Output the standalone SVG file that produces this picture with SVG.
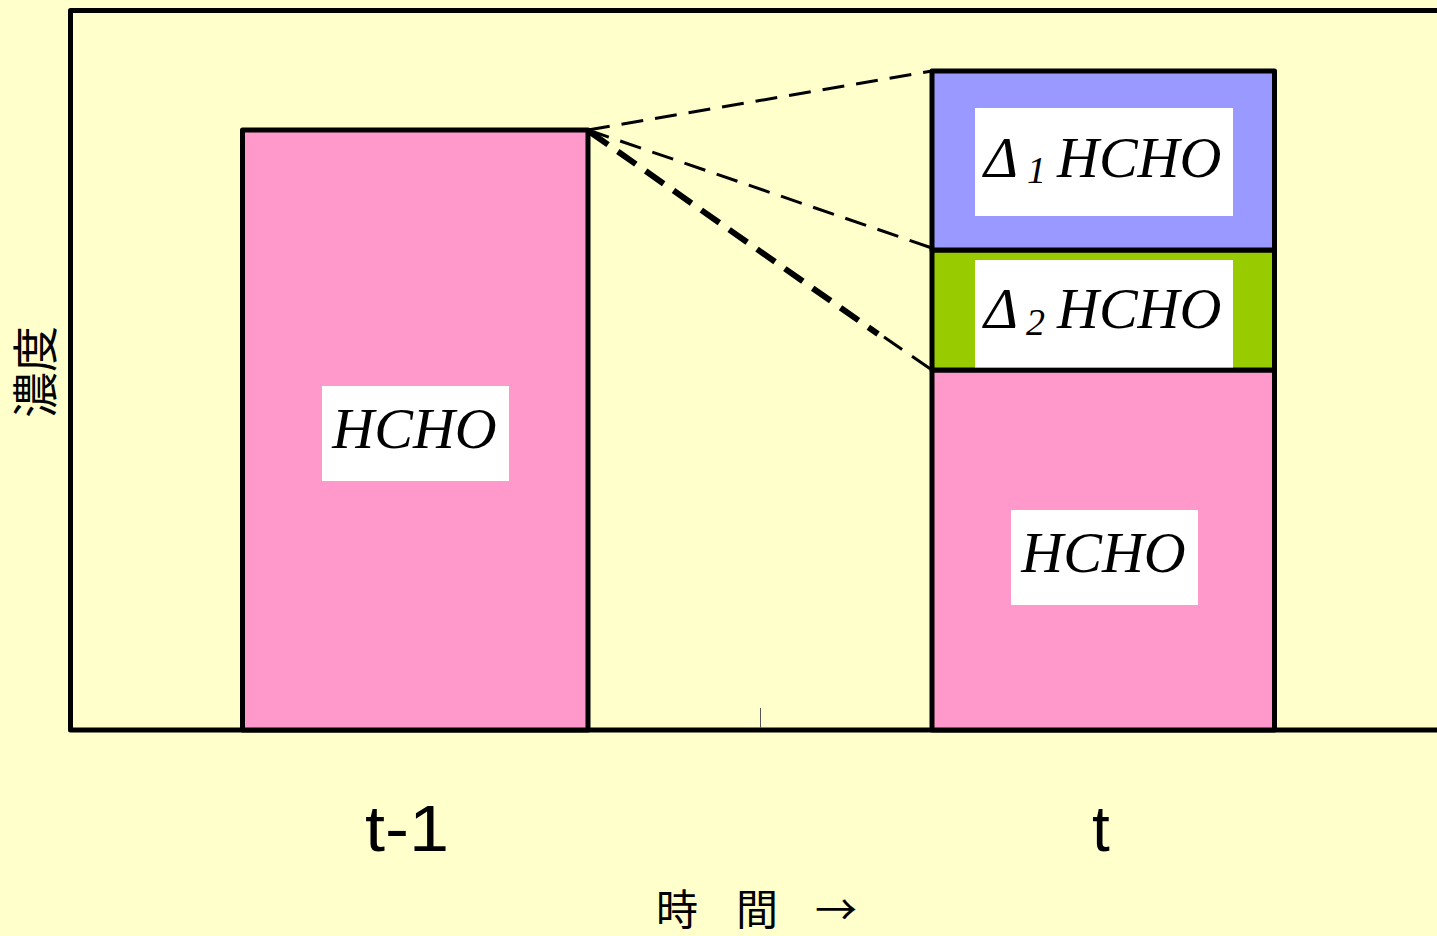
<svg xmlns="http://www.w3.org/2000/svg" width="1437" height="936" viewBox="0 0 1437 936">
  <style>
    .bar { stroke: #000; stroke-width: 5; stroke-linejoin: round; }
    .pink { fill: #FF99CC; }
    .blue { fill: #9999FF; }
    .green { fill: #99CC00; }
    .label-bg { fill: #FFFFFF; }
    .formula { font-family: "Liberation Serif", "Times New Roman", serif; font-style: italic; font-size: 58px; fill: #000; }
    .sub { font-family: "Liberation Serif", "Times New Roman", serif; font-style: italic; font-size: 38px; fill: #000; }
    .axis-label { font-family: "Liberation Sans", Arial, sans-serif; font-size: 64px; fill: #000; }
    .cjk { font-family: "Noto Sans CJK JP", "Noto Sans CJK SC", sans-serif; fill: #000; }
    .dash { stroke: #000; fill: none; stroke-dasharray: 22 12; }
  </style>

  <!-- background -->
  <rect x="0" y="0" width="1437" height="936" fill="#FFFFCC"/>

  <!-- plot frame -->
  <g id="frame">
    <rect x="70.5" y="10.5" width="1400" height="719.5" fill="none" stroke="#000" stroke-width="5" stroke-linejoin="round"/>
    <line x1="760.5" y1="708" x2="760.5" y2="728" stroke="#555" stroke-width="1"/>
  </g>

  <!-- bar at t-1 -->
  <g id="bar-prev">
    <rect class="bar pink" x="242.5" y="130" width="345.5" height="600"/>
    <rect class="label-bg" x="322" y="386" width="187" height="95"/>
    <text class="formula" x="414.5" y="448" text-anchor="middle">HCHO</text>
  </g>

  <!-- stacked bar at t -->
  <g id="bar-now-base">
    <rect class="bar pink" x="932" y="370" width="342.5" height="360"/>
    <rect class="label-bg" x="1011" y="510" width="187" height="95"/>
    <text class="formula" x="1103.5" y="572" text-anchor="middle">HCHO</text>
  </g>

  <g id="bar-now-delta2">
    <rect class="bar green" x="932" y="250" width="342.5" height="120"/>
    <rect class="label-bg" x="975" y="260" width="258" height="107.5"/>
    <text class="formula" x="984" y="328">Δ</text>
    <text class="sub" x="1026" y="335">2</text>
    <text class="formula" x="1057" y="328">HCHO</text>
  </g>

  <g id="bar-now-delta1">
    <rect class="bar blue" x="932" y="71" width="342.5" height="179"/>
    <rect class="label-bg" x="975" y="108" width="258" height="108"/>
    <text class="formula" x="984" y="177">Δ</text>
    <text class="sub" x="1027" y="183">1</text>
    <text class="formula" x="1057" y="177">HCHO</text>
  </g>

  <!-- dashed connectors from the t-1 bar top to the t stack -->
  <g id="connectors">
    <line class="dash" x1="588" y1="130" x2="932" y2="71" stroke-width="3"/>
    <line class="dash" x1="588" y1="130" x2="932" y2="248" stroke-width="3"/>
    <line class="dash" x1="590" y1="132" x2="878" y2="334" stroke-width="6"/>
    <line class="dash" x1="884" y1="337" x2="932" y2="370" stroke-width="3" stroke-dasharray="18 10"/>
  </g>

  <!-- axis labels -->
  <g id="labels">
    <text class="axis-label" x="365" y="851" textLength="84" lengthAdjust="spacingAndGlyphs">t-1</text>
    <text class="axis-label" x="1101" y="851" text-anchor="middle">t</text>
    <text class="cjk" font-size="42" y="925"><tspan x="656">時</tspan><tspan x="736">間</tspan><tspan x="815">→</tspan></text>
    <text class="cjk" font-size="46" transform="translate(35,372) rotate(-90)" x="0" y="17" text-anchor="middle">濃度</text>
  </g>
</svg>
